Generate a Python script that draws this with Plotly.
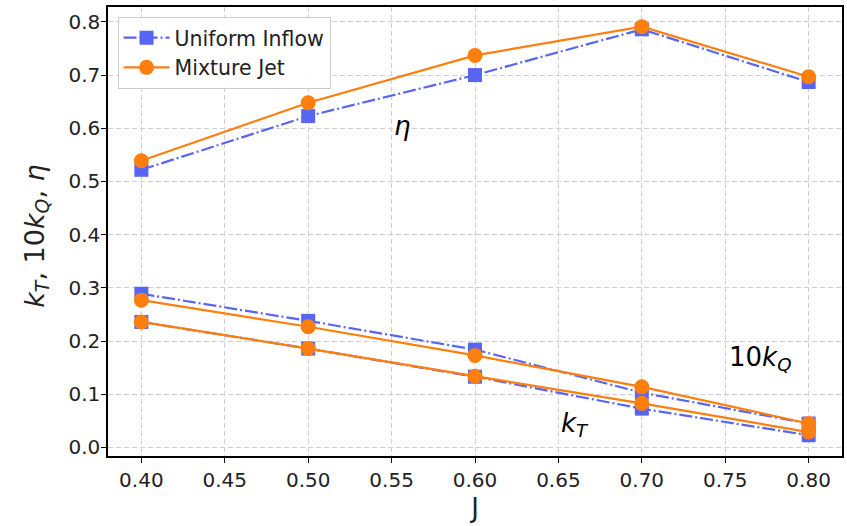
import plotly.graph_objects as go

J = [0.40, 0.50, 0.60, 0.70, 0.80]
eta_uniform = [0.522, 0.623, 0.700, 0.786, 0.687]
eta_mixture = [0.539, 0.648, 0.737, 0.791, 0.697]
kq10_uniform = [0.289, 0.238, 0.184, 0.103, 0.045]
kq10_mixture = [0.277, 0.227, 0.173, 0.114, 0.045]
kt_uniform = [0.236, 0.186, 0.133, 0.073, 0.023]
kt_mixture = [0.236, 0.186, 0.134, 0.083, 0.029]
x_ticks = [0.40, 0.45, 0.50, 0.55, 0.60, 0.65, 0.70, 0.75, 0.80]
y_ticks = [0.0, 0.1, 0.2, 0.3, 0.4, 0.5, 0.6, 0.7, 0.8]

BLUE = "#5865f2"
ORANGE = "#ff7f0e"
DASHDOT = "13px,3px,2px,3px"

fig = go.Figure()

def add(y, color, symbol, dash, name, show):
    fig.add_trace(go.Scatter(
        x=J, y=y, mode="lines+markers", name=name, showlegend=show,
        legendgroup=name,
        line=dict(color=color, width=2.2, dash=dash),
        marker=dict(color=color, symbol=symbol, size=15 if symbol == "circle" else 14),
    ))

add(eta_uniform, BLUE, "square", DASHDOT, "Uniform Inflow", True)
add(kq10_uniform, BLUE, "square", DASHDOT, "Uniform Inflow", False)
add(kt_uniform, BLUE, "square", DASHDOT, "Uniform Inflow", False)
add(eta_mixture, ORANGE, "circle", "solid", "Mixture Jet", True)
add(kq10_mixture, ORANGE, "circle", "solid", "Mixture Jet", False)
add(kt_mixture, ORANGE, "circle", "solid", "Mixture Jet", False)

font = "DejaVu Sans"
ann_font = dict(family=font, size=26, color="black")
fig.add_annotation(x=0.556, y=0.605, text="<i>η</i>", showarrow=False, font=ann_font)
fig.add_annotation(x=0.771, y=0.168, text="10<i>k</i><sub><i>Q</i></sub>", showarrow=False, font=ann_font)
fig.add_annotation(x=0.660, y=0.043, text="<i>k</i><sub><i>T</i></sub>", showarrow=False, font=ann_font)

# y-axis title as a rotated annotation for precise placement
fig.add_annotation(xref="paper", yref="paper", x=-0.097, y=0.49,
                   xanchor="center", yanchor="middle", textangle=-90, showarrow=False,
                   text="<i>k</i><sub><i>T</i></sub>, 10<i>k</i><sub><i>Q</i></sub>, <i>η</i>",
                   font=dict(family=font, size=27, color="#222"))

tick_font = dict(family=font, size=20, color="#222")

axis_common = dict(
    showline=True, linecolor="black", linewidth=1.5, mirror=True,
    ticks="outside", ticklen=5, tickcolor="black", tickwidth=1.2,
    showgrid=True, gridcolor="#d0d0d0", gridwidth=1, griddash="5px,3px",
    zeroline=False,
)

fig.update_layout(
    width=847, height=526,
    margin=dict(l=108, r=3, t=7, b=70),
    plot_bgcolor="white", paper_bgcolor="white",
    xaxis=dict(range=[0.38, 0.82], tickvals=x_ticks,
               ticktext=[f"{v:.2f}" for v in x_ticks], tickfont=tick_font,
               title=dict(text="J", font=dict(family=font, size=26, color="#222"), standoff=8),
               **axis_common),
    yaxis=dict(range=[-0.016, 0.828], tickvals=y_ticks,
               ticktext=[f"{v:.1f}" for v in y_ticks], tickfont=tick_font,
               ticklabelstandoff=-3,
               **axis_common),
    legend=dict(x=0.013, y=0.978, xanchor="left", yanchor="top",
                bgcolor="rgba(255,255,255,0.9)", bordercolor="#cccccc", borderwidth=1,
                itemwidth=46,
                font=dict(family=font, size=20.5, color="#222"), tracegroupgap=0),
)

fig.write_html("out.html")
